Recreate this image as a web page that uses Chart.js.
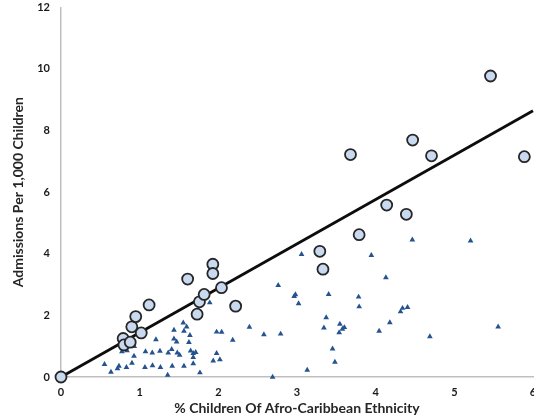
<!DOCTYPE html>
<html>
<head>
<meta charset="utf-8">
<script src="https://cdn.jsdelivr.net/npm/chart.js@4"></script>
<style>
  html, body { margin: 0; padding: 0; background: #fff; overflow: hidden; }
  canvas { display: block; }
</style>
</head>
<body>
<canvas id="c" width="546" height="419"></canvas>
<script>
// Areas plotted as open circles: % Afro-Caribbean children vs admissions per 1,000
const circlePct  = [0, 0.79, 0.80, 0.88, 0.90, 0.95, 1.02, 1.12, 1.61, 1.73, 1.76, 1.82, 1.93, 1.93, 2.04, 2.22, 3.29, 3.33, 3.79, 4.14, 4.39, 3.68, 4.47, 4.71, 5.46, 5.89];
const circleRate = [0, 1.25, 1.04, 1.13, 1.63, 1.96, 1.43, 2.34, 3.18, 2.04, 2.44, 2.68, 3.66, 3.36, 2.90, 2.30, 4.08, 3.50, 4.62, 5.58, 5.28, 7.22, 7.69, 7.18, 9.77, 7.15];

// Areas plotted as small triangles
const trianglePct  = [0.553, 0.635, 0.718, 0.737, 0.775, 0.832, 0.839, 0.902, 0.928, 0.931, 1.074, 1.067, 1.160, 1.163, 1.207, 1.258, 1.264,
  1.356, 1.363, 1.407, 1.414, 1.436, 1.436, 1.470, 1.478, 1.508, 1.554, 1.563, 1.563, 1.597, 1.626, 1.639, 1.648, 1.681, 1.712, 1.681, 1.681,
  1.766, 1.891, 1.935, 1.978, 2.020, 1.978, 2.042, 2.183, 2.395, 2.579, 2.690, 2.761, 2.792, 2.964, 2.980, 3.020, 3.058, 3.130,
  3.342, 3.371, 3.402, 3.452, 3.482, 3.545, 3.536, 3.577, 3.602, 3.783, 3.790, 3.945, 4.044, 4.130, 4.180, 4.316, 4.342, 4.405,
  4.466, 4.689, 5.206, 5.557];
const triangleRate = [0.41, 0.16, 0.275, 0.356, 0.825, 0.314, 0.858, 0.453, 0.680, 0.994, 0.825, 0.314, 0.786, 0.372, 1.214, 0.841, 0.314,
  0.065, 0.786, 0.896, 0.356, 1.236, 1.521, 1.142, 0.786, 0.712, 1.757, 1.489, 0.356, 1.628, 1.123, 1.350, 0.851, 0.767, 0.799, 0.638, 0.437,
  0.139, 2.411, 0.528, 0.767, 0.566, 1.463, 1.456, 1.197, 1.618, 1.375, 0.0, 2.977, 1.398, 2.621, 2.676, 2.385, 3.981, 0.227,
  1.595, 1.932, 2.686, 0.916, 0.485, 1.715, 1.440, 1.553, 1.608, 2.599, 2.282, 3.948, 1.489, 3.227, 1.764, 2.120, 2.233, 2.259,
  4.450, 1.311, 4.417, 1.628];

// Trend line through the origin
const trendPct  = [0, 6];
const trendRate = [0, 8.64];

// Axis tick values
const xTicks = [0, 1, 2, 3, 4, 5, 6];
const yTicks = [0, 2, 4, 6, 8, 10, 12];

const pts = (xs, ys) => xs.map((x, i) => ({ x, y: ys[i] }));
const tickFont = { family: 'Lato, "Open Sans", sans-serif', size: 11, weight: 'bold' };
const titleFont = { family: 'Lato, "Open Sans", sans-serif', size: 14, weight: 'bold' };

new Chart(document.getElementById('c'), {
  type: 'scatter',
  data: {
    datasets: [
      {
        data: pts(circlePct, circleRate),
        order: 1,
        clip: false,
        pointStyle: 'circle',
        pointRadius: 5.5,
        pointBorderWidth: 1.8,
        backgroundColor: '#c9daf0',
        borderColor: '#262626'
      },
      {
        type: 'line',
        data: pts(trendPct, trendRate),
        order: 2,
        clip: false,
        borderColor: '#0d0d0d',
        borderWidth: 2.8,
        pointRadius: 0,
        fill: false
      },
      {
        data: pts(trianglePct, triangleRate),
        order: 3,
        clip: false,
        pointStyle: 'triangle',
        pointRadius: 3.3,
        pointBorderWidth: 0,
        backgroundColor: '#24538f',
        borderColor: '#24538f'
      }
    ]
  },
  options: {
    responsive: false,
    animation: false,
    layout: { padding: { left: 0, right: 13, top: 0, bottom: 0 } },
    plugins: { legend: { display: false }, tooltip: { enabled: false } },
    scales: {
      x: {
        type: 'linear',
        min: 0, max: 6,
        afterBuildTicks: s => { s.ticks = xTicks.map(v => ({ value: v })); },
        afterFit: s => { s.height = 42; },
        grid: { display: false, drawTicks: false },
        border: { color: '#bfbfbf', width: 1.5 },
        ticks: { color: '#1a1a1a', font: tickFont, padding: 9 },
        title: {
          display: true,
          text: '% Children Of Afro-Caribbean Ethnicity',
          color: '#262626',
          font: titleFont,
          padding: { top: 0, bottom: 2 }
        }
      },
      y: {
        type: 'linear',
        min: 0, max: 12,
        afterBuildTicks: s => { s.ticks = yTicks.map(v => ({ value: v })); },
        afterFit: s => { s.width = 61; s.paddingTop = 6; s.paddingBottom = 6; },
        grid: { display: false, drawTicks: false },
        border: { color: '#bfbfbf', width: 1.5 },
        ticks: { color: '#1a1a1a', font: tickFont, padding: 11 },
        title: {
          display: true,
          text: 'Admissions Per 1,000 Children',
          color: '#262626',
          font: titleFont,
          padding: { top: 10, bottom: 0 }
        }
      }
    }
  }
});
</script>
</body>
</html>
